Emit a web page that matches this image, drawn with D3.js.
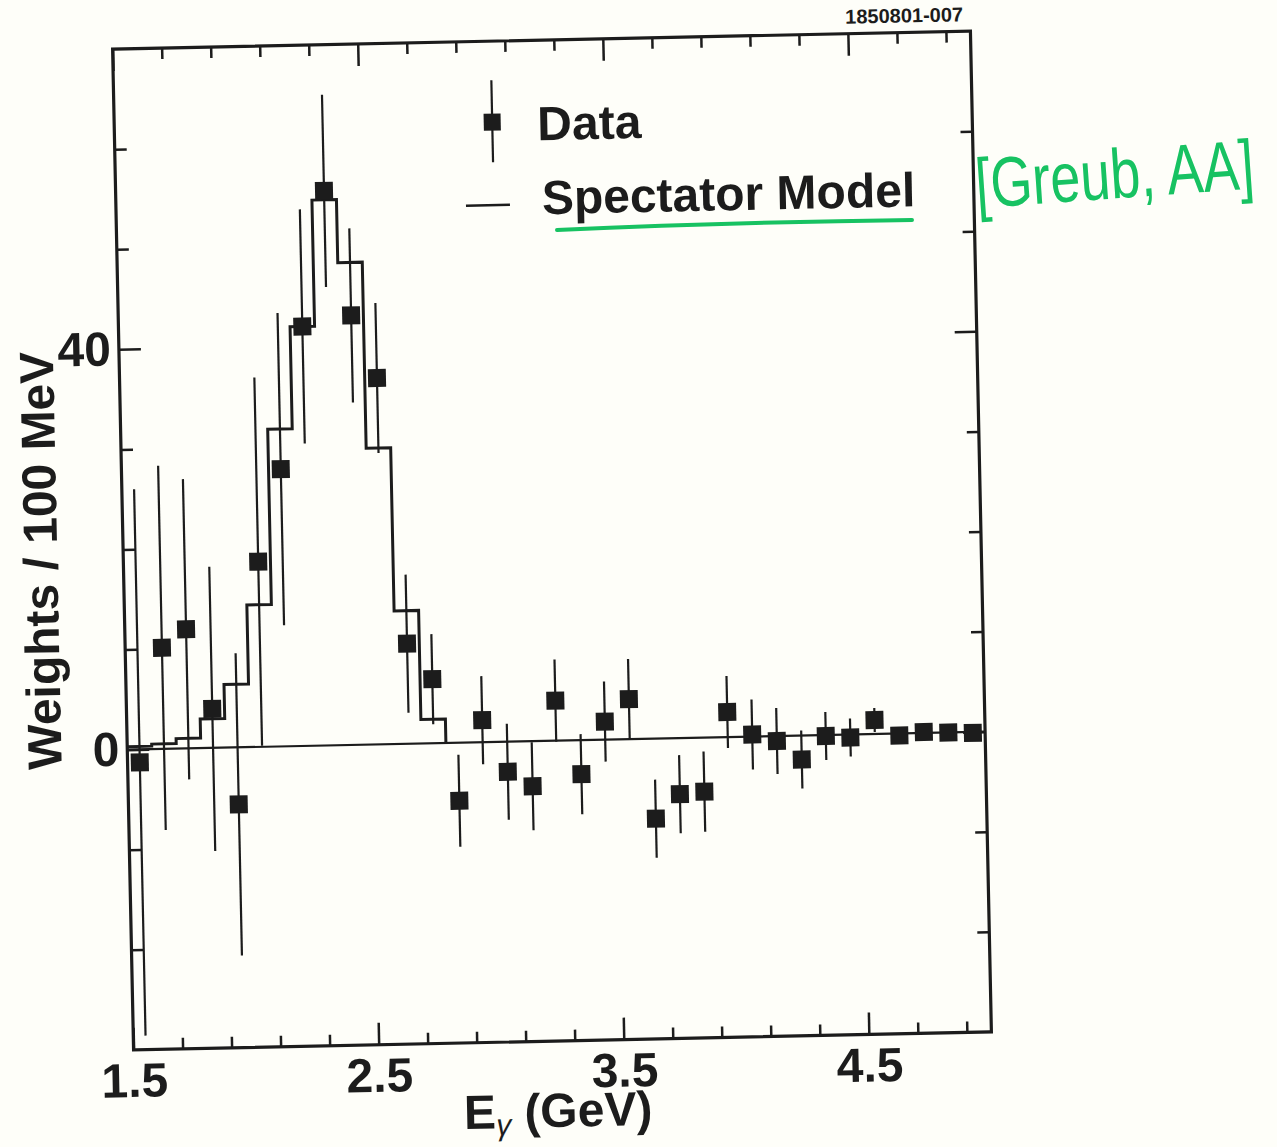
<!DOCTYPE html>
<html><head><meta charset="utf-8">
<script src="https://cdn.jsdelivr.net/npm/d3@7"></script>
<style>body{margin:0;background:#fefef9;} svg{display:block}</style>
</head><body>
<svg id="chart" width="1277" height="1147"></svg>
<script>
// ---- data ----
const energies = [1.55,1.65,1.75,1.85,1.95,2.05,2.15,2.25,2.35,2.45,2.55,2.65,2.75,2.85,2.95,3.05,3.15,3.25,3.35,3.45,3.55,3.65,3.75,3.85,3.95,4.05,4.15,4.25,4.35,4.45,4.55,4.65,4.75,4.85,4.95];
const weights  = [-1.3,10.1,11.9,3.9,-5.7,18.5,27.7,41.9,55.4,42.9,36.6,10.0,6.4,-5.8,2.2,-3.0,-4.5,4.0,-3.4,1.8,4.0,-8.0,-5.6,-5.4,2.5,0.2,-0.5,-2.4,-0.1,-0.3,1.4,-0.2,0.1,0.0,-0.1];
const errors   = [27.3,18.2,15.0,14.2,15.1,18.4,15.6,11.7,9.6,8.7,7.5,6.9,4.5,4.6,4.4,4.8,4.4,4.1,4.0,4.0,4.0,3.9,3.9,4.0,3.6,3.5,3.3,2.9,2.4,1.9,1.2,0.6,0.5,0.5,0.5];
const modelEdges  = [1.5,1.6,1.7,1.8,1.9,2.0,2.1,2.2,2.3,2.4,2.5,2.6,2.7,2.8];
const modelValues = [0.3,0.5,1.0,2.9,6.3,14.2,31.7,41.9,54.5,48.2,29.6,13.3,2.4,0];
const xMajorTicks = [1.5,2.5,3.5,4.5];
const xMinorTicks = [1.7,1.9,2.1,2.3,2.7,2.9,3.1,3.3,3.7,3.9,4.1,4.3,4.7,4.9];
const yMajorTicks = [0,40];
const yMinorTicks = [-20,-10,10,20,30,50,60];
const xDomain = [1.5,5.0];
const yDomain = [-30,70];

// ---- layout ----
const W=1277,H=1147;
const L=123,R=981,T=40,B=1041, CX=552, CY=540.5, TILT=-1.2;
const ink='#1c1c1c';
const FONT="'Liberation Sans', Arial, Helvetica, sans-serif";
const GREEN='#17c262';

const svg=d3.select('#chart');
svg.append('rect').attr('width',W).attr('height',H).attr('fill','#fefef9');
const g=svg.append('g').attr('transform',`rotate(${TILT},${CX},${CY})`);

const x=d3.scaleLinear().domain(xDomain).range([L,R]);
const y=d3.scaleLinear().domain(yDomain).range([B,T]);

function ticks(axis,transform,vals,size){
  const a=g.append('g').attr('transform',transform)
    .call(axis.tickValues(vals).tickSize(-size).tickFormat(''));
  a.select('.domain').remove();
  a.selectAll('line').attr('stroke',ink).attr('stroke-width',2.5);
}
ticks(d3.axisBottom(x),`translate(0,${B})`,xMinorTicks,11);
ticks(d3.axisBottom(x),`translate(0,${B})`,xMajorTicks,22);
ticks(d3.axisTop(x),`translate(0,${T})`,xMinorTicks,11);
ticks(d3.axisTop(x),`translate(0,${T})`,xMajorTicks,22);
ticks(d3.axisLeft(y),`translate(${L},0)`,yMinorTicks,12);
ticks(d3.axisLeft(y),`translate(${L},0)`,yMajorTicks,22);
ticks(d3.axisRight(y),`translate(${R},0)`,yMinorTicks,12);
ticks(d3.axisRight(y),`translate(${R},0)`,yMajorTicks,22);

// tick labels
const xl=g.append('g').attr('transform',`translate(0,${B})`)
  .call(d3.axisBottom(x).tickValues(xMajorTicks).tickSize(0).tickPadding(13).tickFormat(d3.format('.1f')));
xl.select('.domain').remove();
xl.selectAll('text').attr('font-family',FONT).attr('font-size',48).attr('font-weight','bold').attr('fill',ink);
const yl=g.append('g').attr('transform',`translate(${L},0)`)
  .call(d3.axisLeft(y).tickValues(yMajorTicks).tickSize(0).tickPadding(8).tickFormat(d3.format('d')));
yl.select('.domain').remove();
yl.selectAll('text').attr('font-family',FONT).attr('font-size',48).attr('font-weight','bold').attr('fill',ink);

// frame
g.append('rect').attr('x',L).attr('y',T).attr('width',R-L).attr('height',B-T)
  .attr('fill','none').attr('stroke',ink).attr('stroke-width',3.2);

// zero line
g.append('line').attr('x1',x(xDomain[0])).attr('x2',x(xDomain[1]))
  .attr('y1',y(0)).attr('y2',y(0)).attr('stroke',ink).attr('stroke-width',2.2);

// model histogram
const model=modelEdges.map((e,i)=>[e,modelValues[i]]);
g.append('path').datum(model)
  .attr('d',d3.line().x(d=>x(d[0])).y(d=>y(d[1])).curve(d3.curveStepAfter))
  .attr('fill','none').attr('stroke',ink).attr('stroke-width',3);

// data
const pts=energies.map((e,i)=>({e,v:weights[i],s:errors[i]}));
g.append('g').selectAll('line').data(pts).join('line')
  .attr('x1',d=>x(d.e)).attr('x2',d=>x(d.e))
  .attr('y1',d=>y(d.v-d.s)).attr('y2',d=>y(d.v+d.s))
  .attr('stroke',ink).attr('stroke-width',2.2);
const SQ=18;
g.append('g').selectAll('rect').data(pts).join('rect')
  .attr('x',d=>x(d.e)-SQ/2).attr('y',d=>y(d.v)-SQ/2)
  .attr('width',SQ).attr('height',SQ).attr('fill',ink);

// axis titles
g.append('text').attr('transform','translate(57,550) rotate(-90)')
  .attr('text-anchor','middle').attr('font-family',FONT).attr('font-size',48)
  .attr('font-weight','bold').attr('fill',ink).text('Weights / 100 MeV');
const xt=g.append('text').attr('x',452).attr('y',1127)
  .attr('font-family',FONT).attr('font-size',48).attr('font-weight','bold').attr('fill',ink);
xt.append('tspan').text('E');
xt.append('tspan').attr('dy',7).attr('font-size',30).attr('font-style','italic').attr('font-weight','normal').text('γ');
xt.append('tspan').attr('dy',-7).text(' (GeV)');

// legend
g.append('line').attr('x1',501).attr('x2',501).attr('y1',79).attr('y2',161)
  .attr('stroke',ink).attr('stroke-width',2.2);
g.append('rect').attr('x',501-8.5).attr('y',121-8.5).attr('width',17).attr('height',17).attr('fill',ink);
g.append('text').attr('x',546).attr('y',140).attr('font-family',FONT).attr('font-size',48)
  .attr('font-weight','bold').attr('fill',ink).text('Data');
g.append('line').attr('x1',473).attr('x2',517).attr('y1',204).attr('y2',204)
  .attr('stroke',ink).attr('stroke-width',2.5);
g.append('text').attr('x',549).attr('y',214).attr('font-family',FONT).attr('font-size',48)
  .attr('font-weight','bold').attr('fill',ink).text('Spectator Model');

// figure id
g.append('text').attr('x',974).attr('y',30).attr('text-anchor','end')
  .attr('font-family',FONT).attr('font-size',20).attr('font-weight','bold').attr('fill',ink)
  .text('1850801-007');

// green pen annotations (drawn on the scan, not tilted)
svg.append('path').attr('d','M557,230 Q740,222 912,220')
  .attr('fill','none').attr('stroke',GREEN).attr('stroke-width',4).attr('stroke-linecap','round');
svg.append('text')
  .attr('transform','translate(977,208) rotate(-4) scale(1,1.3)')
  .attr('font-family',FONT).attr('font-size',54).attr('fill',GREEN)
  .text('[Greub, AA]');
</script>
</body></html>
